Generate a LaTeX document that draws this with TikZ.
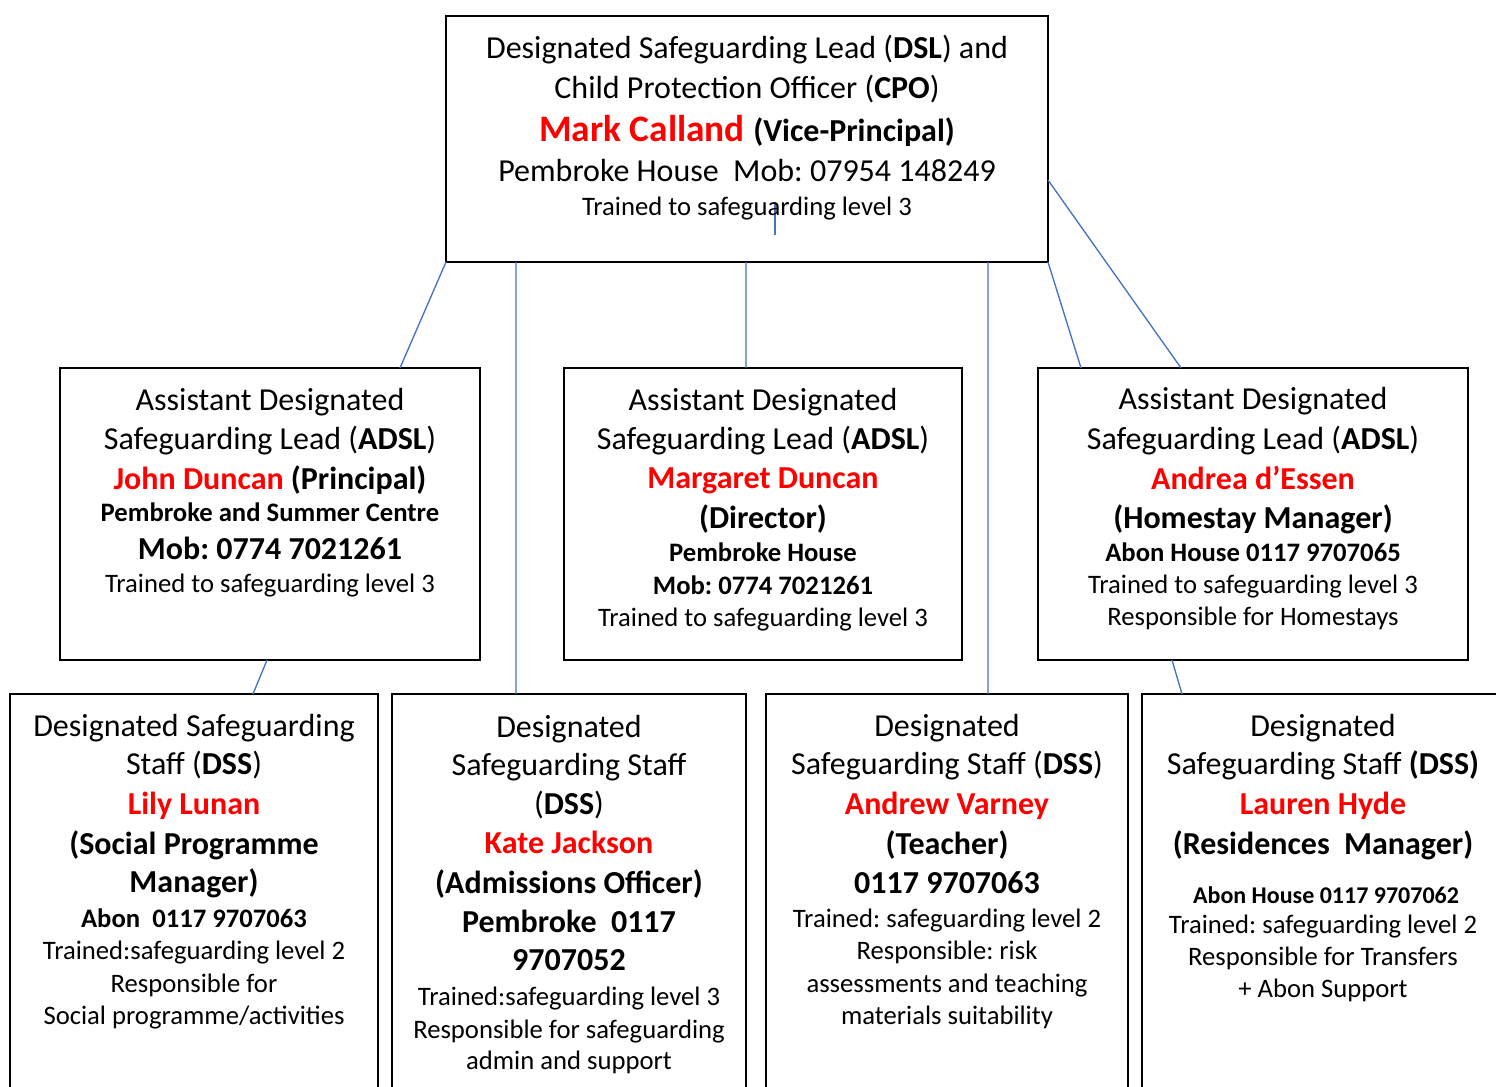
\documentclass[tikz,border=0pt]{standalone}
\usepackage{fontspec}
\setmainfont{Carlito}
\usetikzlibrary{calc}
\frenchspacing
\definecolor{linkblue}{HTML}{4472C4}
\definecolor{namered}{HTML}{FF0000}
\newcommand\fsA{\fontsize{24}{29}\selectfont}
\newcommand\fsB{\fontsize{20}{24}\selectfont}
\newcommand\fsC{\fontsize{28}{34}\selectfont}
\newcommand\fsD{\fontsize{18}{22}\selectfont}
\tikzset{
  x=0.75pt, y=-0.75pt,
  orgbox/.style={draw=black, line width=1.5pt, inner sep=0pt, outer sep=0pt, anchor=north west, fill=white},
  conn/.style={draw=linkblue, line width=1pt},
  txt/.style={inner sep=0pt, outer sep=0pt, anchor=base, yshift=-1.1pt, font=\fsA},
  fsmall/.style={font=\fsB},
  fbold/.style={font=\fsA\bfseries},
  fboldsmall/.style={font=\fsB\bfseries},
  fboldtiny/.style={font=\fsD\bfseries},
  fperson/.style={font=\fsA\bfseries, text=namered},
}
\newcommand\nm[1]{{\color{namered}#1}}
\begin{document}
\begin{tikzpicture}
\useasboundingbox (0,0) rectangle (1496,1086);
\clip (0,0) rectangle (1496,1086);
\fill[white] (0,0) rectangle (1496,1086);

% boxes
\node[orgbox, minimum width={602*0.75pt}, minimum height={246*0.75pt}] (top) at (446,16) {};
\node[orgbox, minimum width={420*0.75pt}, minimum height={292*0.75pt}] (adslL) at (60,368) {};
\node[orgbox, minimum width={398*0.75pt}, minimum height={292*0.75pt}] (adslM) at (564,368) {};
\node[orgbox, minimum width={430*0.75pt}, minimum height={292*0.75pt}] (adslR) at (1038,368) {};
\node[orgbox, minimum width={368*0.75pt}, minimum height={420*0.75pt}] (botA) at (10,694) {};
\node[orgbox, minimum width={354*0.75pt}, minimum height={420*0.75pt}] (botB) at (392,694) {};
\node[orgbox, minimum width={362*0.75pt}, minimum height={420*0.75pt}] (botC) at (766,694) {};
\node[orgbox, minimum width={400*0.75pt}, minimum height={420*0.75pt}] (botD) at (1142,694) {};

% connectors
\draw[conn] (top.south west) -- ($(adslL.north west)!0.8095!(adslL.north east)$);
\draw[conn] ($(top.south west)!0.1163!(top.south east)$) -- ($(botB.north west)!0.3503!(botB.north east)$);
\draw[conn] ($(top.south west)!0.4983!(top.south east)$) -- ($(adslM.north west)!0.4573!(adslM.north east)$);
\draw[conn] ($(top.south west)!0.9003!(top.south east)$) -- ($(botC.north west)!0.6133!(botC.north east)$);
\draw[conn] (top.south east) -- ($(adslR.north west)!0.1!(adslR.north east)$);
\draw[conn] ($(top.north east)!0.6667!(top.south east)$) -- ($(adslR.north west)!0.3326!(adslR.north east)$);
\draw[conn] ($(adslL.south west)!0.4929!(adslL.south east)$) -- ($(botA.north west)!0.6603!(botA.north east)$);
\draw[conn] ($(adslR.south west)!0.3116!(adslR.south east)$) -- ($(botD.north west)!0.1!(botD.north east)$);
\coordinate (strayA) at ($(top.south west)!0.5465!(top.south east) + (0,-27)$);
\coordinate (strayB) at ($(top.south west)!0.5465!(top.south east) + (0,-59)$);
\draw[conn] (strayA) -- (strayB);

% top box text
\node[txt] (t1) at (747,56.7) {Designated Safeguarding Lead (\textbf{DSL}) and};
\node[txt] (t2) at (747,97) {Child Protection Officer (\textbf{CPO})};
\node[txt] (t3) at (747,140.5) {\fsC\bfseries\nm{Mark Calland} \fsA(Vice-Principal)};
\node[txt] (t4) at (747,180.5) {Pembroke House\ \ Mob: 07954 148249};
\node[txt, fsmall] (t5) at (747,214) {Trained to safeguarding level 3};

% ADSL left
\node[txt] (l1) at (270,409) {Assistant Designated};
\node[txt] (l2) at (270,448) {Safeguarding Lead (\textbf{ADSL})};
\node[txt, fbold] (l3) at (270,488) {\nm{John Duncan} (Principal)};
\node[txt, fboldsmall] (l4) at (270,520.5) {Pembroke and Summer Centre};
\node[txt, fbold] (l5) at (270,558) {Mob: 0774 7021261};
\node[txt, fsmall] (l6) at (270,591.5) {Trained to safeguarding level 3};

% ADSL middle
\node[txt] (m1) at (763,409) {Assistant Designated};
\node[txt] (m2) at (763,448) {Safeguarding Lead (\textbf{ADSL})};
\node[txt, fperson] (m3) at (763,487.3) {Margaret Duncan};
\node[txt, fbold] (m4) at (763,527) {(Director)};
\node[txt, fboldsmall] (m5) at (763,560) {Pembroke House};
\node[txt, fboldsmall] (m6) at (763,592.7) {Mob: 0774 7021261};
\node[txt, fsmall] (m7) at (763,625) {Trained to safeguarding level 3};

% ADSL right
\node[txt] (r1) at (1253,408.5) {Assistant Designated};
\node[txt] (r2) at (1253,447.7) {Safeguarding Lead (\textbf{ADSL})};
\node[txt, fperson] (r3) at (1253,487.7) {Andrea d’Essen};
\node[txt, fbold] (r4) at (1253,526.7) {(Homestay Manager)};
\node[txt, fboldsmall] (r5) at (1253,560) {Abon House 0117 9707065};
\node[txt, fsmall] (r6) at (1253,591.7) {Trained to safeguarding level 3};
\node[txt, fsmall] (r7) at (1253,624.3) {Responsible for Homestays};

% bottom A
\node[txt] (a1) at (194,735) {Designated Safeguarding};
\node[txt] (a2) at (194,773.3) {Staff (\textbf{DSS})};
\node[txt, fperson] (a3) at (194,813) {Lily Lunan};
\node[txt, fbold] (a4) at (194,852.7) {(Social Programme};
\node[txt, fbold] (a5) at (194,891) {Manager)};
\node[txt, fboldsmall] (a6) at (194,926) {Abon\ \ 0117 9707063};
\node[txt, fsmall] (a7) at (194,957.7) {Trained:safeguarding level 2};
\node[txt, fsmall] (a8) at (194,991) {Responsible for};
\node[txt, fsmall] (a9) at (194,1022.7) {Social programme/activities};

% bottom B
\node[txt] (b1) at (569,735.7) {Designated};
\node[txt] (b2) at (569,774) {Safeguarding Staff};
\node[txt] (b3) at (569,812.7) {(\textbf{DSS})};
\node[txt, fperson] (b4) at (569,852.3) {Kate Jackson};
\node[txt, fbold] (b5) at (569,891.7) {(Admissions Officer)};
\node[txt, fbold] (b6) at (569,930.7) {Pembroke\ \ 0117};
\node[txt, fbold] (b7) at (569,969.3) {9707052};
\node[txt, fsmall] (b8) at (569,1004) {Trained:safeguarding level 3};
\node[txt, fsmall] (b9) at (569,1036.7) {Responsible for safeguarding};
\node[txt, fsmall] (b10) at (569,1068.3) {admin and support};

% bottom C
\node[txt] (c1) at (947,735) {Designated};
\node[txt] (c2) at (947,773.3) {Safeguarding Staff (\textbf{DSS})};
\node[txt, fperson] (c3) at (947,812.7) {Andrew Varney};
\node[txt, fbold] (c4) at (947,852.7) {(Teacher)};
\node[txt, fbold] (c5) at (947,891.7) {0117 9707063};
\node[txt, fsmall] (c6) at (947,925.7) {Trained: safeguarding level 2};
\node[txt, fsmall] (c7) at (947,957.7) {Responsible: risk};
\node[txt, fsmall] (c8) at (947,991) {assessments and teaching};
\node[txt, fsmall] (c9) at (947,1023.3) {materials suitability};

% bottom D
\node[txt] (d1) at (1323,735) {Designated};
\node[txt] (d2) at (1323,773.3) {Safeguarding Staff \textbf{(DSS)}};
\node[txt, fperson] (d3) at (1323,813.3) {Lauren Hyde};
\node[txt, fbold] (d4) at (1323,853.3) {(Residences\ \ Manager)};
\node[txt, fboldtiny] (d5) at (1326,901.7) {Abon House 0117 9707062};
\node[txt, fsmall] (d6) at (1323,931.7) {Trained: safeguarding level 2};
\node[txt, fsmall] (d7) at (1323,964) {Responsible for Transfers};
\node[txt, fsmall] (d8) at (1323,996) {+ Abon Support};
\end{tikzpicture}
\end{document}
